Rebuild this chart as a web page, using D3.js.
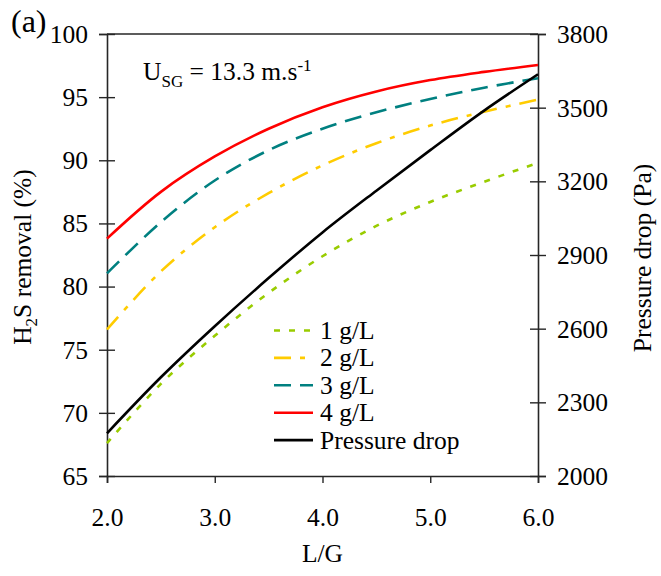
<!DOCTYPE html>
<html><head><meta charset="utf-8">
<script src="https://cdn.jsdelivr.net/npm/d3@7"></script>
<style>
body{margin:0;background:#fff}
svg{display:block}
text{font-family:"Liberation Serif","Times New Roman",serif;fill:#000}
</style>
</head><body><svg id="chart" width="661" height="576"></svg>
<script>
// ---- data ----
const lg = [2.0, 2.5, 3.0, 3.5, 4.0, 4.5, 5.0, 5.5, 6.0];
const removal1 = [67.6, 72.3, 76.1, 79.5, 82.4, 84.8, 86.7, 88.3, 89.8];
const removal2 = [76.6, 81.2, 84.7, 87.4, 89.6, 91.35, 92.75, 93.85, 94.8];
const removal3 = [81.05, 85.1, 88.4, 90.8, 92.5, 93.8, 94.85, 95.75, 96.5];
const removal4 = [83.8, 87.5, 90.3, 92.5, 94.2, 95.45, 96.35, 97.0, 97.55];
const pressureDrop = [2174, 2402, 2610, 2806, 2992, 3162, 3327, 3488, 3636];
const seriesNames = ["1 g/L", "2 g/L", "3 g/L", "4 g/L", "Pressure drop"];
const xTicks = [2, 3, 4, 5, 6];
const yLeftTicks = [65, 70, 75, 80, 85, 90, 95, 100];
const yRightTicks = [2000, 2300, 2600, 2900, 3200, 3500, 3800];

// ---- styles ----
const colors = ["#99CC00", "#FFCC00", "#008080", "#FF0000", "#000000"];
const dashes = ["6,9", "17,9,5,9", "17,9", null, null];
const axisColor = "#262626";
const font = 25.5;
const serif = "Liberation Serif, Times New Roman, serif";

const svg = d3.select("#chart");
const L = 107, R = 538, T = 34, B = 476;

const x = d3.scaleLinear().domain([2, 6]).range([L, R]);
const yL = d3.scaleLinear().domain([65, 100]).range([B, T]);
const yR = d3.scaleLinear().domain([2000, 3800]).range([B, T]);

function styleAxis(g) {
  g.attr("font-family", serif).attr("font-size", font);
  g.selectAll(".domain").attr("stroke", axisColor).attr("stroke-width", 1.6);
  g.selectAll(".tick line").attr("stroke", axisColor).attr("stroke-width", 1.4);
  g.selectAll(".tick text").attr("font-family", serif).attr("font-size", font).attr("fill", "#000");
}

// top border
svg.append("line").attr("x1", L).attr("x2", R).attr("y1", T).attr("y2", T)
  .attr("stroke", axisColor).attr("stroke-width", 1.6);

// left axis (outer ticks + labels)
const gl = svg.append("g").attr("transform", `translate(${L},0)`)
  .call(d3.axisLeft(yL).tickValues(yLeftTicks).tickSize(8).tickPadding(11).tickFormat(d3.format("d")));
styleAxis(gl);
gl.selectAll(".tick text").attr("dy", "0.33em");
const gl2 = svg.append("g").attr("transform", `translate(${L},0)`)
  .call(d3.axisRight(yL).tickValues(yLeftTicks).tickSize(8).tickFormat(""));
gl2.select(".domain").remove();
styleAxis(gl2);

// right axis
const gr = svg.append("g").attr("transform", `translate(${R},0)`)
  .call(d3.axisRight(yR).tickValues(yRightTicks).tickSize(8).tickPadding(11).tickFormat(d3.format("d")));
styleAxis(gr);
gr.selectAll(".tick text").attr("dy", "0.33em");
const gr2 = svg.append("g").attr("transform", `translate(${R},0)`)
  .call(d3.axisLeft(yR).tickValues(yRightTicks).tickSize(8).tickFormat(""));
gr2.select(".domain").remove();
styleAxis(gr2);

// bottom axis
const gb = svg.append("g").attr("transform", `translate(0,${B})`)
  .call(d3.axisBottom(x).tickValues(xTicks).tickSize(7).tickPadding(25).tickFormat(d3.format(".1f")));
styleAxis(gb);
gb.selectAll(".tick text").attr("dy", "0.71em");

// ---- lines ----
const removalSeries = [removal1, removal2, removal3, removal4];
const curve = d3.curveCatmullRom.alpha(0.5);
const lineL = d3.line().x((d, i) => x(lg[i])).y(d => yL(d)).curve(curve);
const lineR = d3.line().x((d, i) => x(lg[i])).y(d => yR(d)).curve(curve);

removalSeries.forEach((s, k) => {
  svg.append("path").datum(s).attr("d", lineL)
    .attr("fill", "none").attr("stroke", colors[k]).attr("stroke-width", 2.6)
    .attr("stroke-dasharray", dashes[k]);
});
svg.append("path").datum(pressureDrop).attr("d", lineR)
  .attr("fill", "none").attr("stroke", colors[4]).attr("stroke-width", 2.6);

// ---- legend ----
const legX1 = 274, legX2 = 313, legY0 = 330.5, legDY = 27.4;
seriesNames.forEach((name, k) => {
  const yy = legY0 + k * legDY;
  svg.append("line").attr("x1", legX1).attr("x2", legX2).attr("y1", yy).attr("y2", yy)
    .attr("stroke", colors[k]).attr("stroke-width", 2.6).attr("stroke-dasharray", dashes[k]);
  svg.append("text").attr("x", 320).attr("y", yy + 8.5).attr("font-size", font).text(name);
});

// ---- texts ----
svg.append("text").attr("x", 11).attr("y", 32).attr("font-size", 32).text("(a)");

const ann = svg.append("text").attr("x", 143).attr("y", 80).attr("font-size", font);
ann.append("tspan").text("U");
ann.append("tspan").attr("dy", 7).attr("font-size", 17).text("SG");
ann.append("tspan").attr("dy", -7).text(" = 13.3 m.s");
ann.append("tspan").attr("dy", -9).attr("font-size", 17).text("-1");

const yt = svg.append("text").attr("transform", "translate(31,257) rotate(-90)")
  .attr("text-anchor", "middle").attr("font-size", font);
yt.append("tspan").text("H");
yt.append("tspan").attr("dy", 6).attr("font-size", 17).text("2");
yt.append("tspan").attr("dy", -6).text("S removal (%)");

svg.append("text").attr("transform", "translate(651,258) rotate(-90)")
  .attr("text-anchor", "middle").attr("font-size", font).text("Pressure drop (Pa)");

svg.append("text").attr("x", (L + R) / 2).attr("y", 562).attr("text-anchor", "middle")
  .attr("font-size", font).text("L/G");
</script>
</body></html>
